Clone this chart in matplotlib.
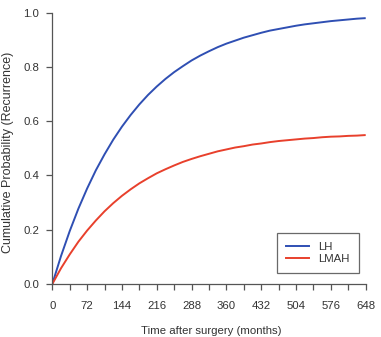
import matplotlib
matplotlib.use("Agg")
import matplotlib.pyplot as plt
from matplotlib.lines import Line2D

# Data (months, cumulative probability)
months = [0, 18, 36, 54, 72, 90, 108, 126, 144, 162, 180, 198, 216, 234, 252,
          270, 288, 306, 324, 342, 360, 378, 396, 414, 432, 450, 468, 486, 504,
          522, 540, 558, 576, 594, 612, 630, 648]
lh = [0.0, 0.103, 0.195, 0.278, 0.352, 0.419, 0.478, 0.532, 0.580, 0.623,
      0.662, 0.697, 0.728, 0.756, 0.781, 0.803, 0.824, 0.842, 0.858, 0.873,
      0.886, 0.897, 0.908, 0.917, 0.926, 0.934, 0.940, 0.946, 0.952, 0.957,
      0.961, 0.965, 0.969, 0.972, 0.975, 0.978, 0.980]
lmah = [0.0, 0.058, 0.109, 0.156, 0.197, 0.234, 0.268, 0.298, 0.325, 0.349,
        0.371, 0.390, 0.408, 0.423, 0.437, 0.450, 0.461, 0.471, 0.480, 0.489,
        0.496, 0.503, 0.508, 0.514, 0.518, 0.523, 0.527, 0.530, 0.533, 0.536,
        0.538, 0.541, 0.543, 0.544, 0.546, 0.547, 0.549]
x_ticks = list(range(0, 649, 36))
x_labels = list(range(0, 649, 72))
y_ticks = [0.0, 0.2, 0.4, 0.6, 0.8, 1.0]
series_names = ["LH", "LMAH"]
series_colors = ["#2f4fb3", "#e8402c"]

plt.rcParams['font.family'] = ['Liberation Sans', 'DejaVu Sans']
FS = 8.2
W, H = 381, 337
fig = plt.figure(figsize=(W / 100, H / 100), dpi=100)
ax = fig.add_axes([52.3 / W, 1 - 284 / H, (365.7 - 52.3) / W, (284 - 12.7) / H])

ax.plot(months, lh, color=series_colors[0], lw=1.4, solid_capstyle='butt')
ax.plot(months, lmah, color=series_colors[1], lw=1.4, solid_capstyle='butt')

ax.set_xlim(0, 648)
ax.set_ylim(0, 1.0)
for s in ['top', 'right']:
    ax.spines[s].set_visible(False)
axis_col = '#555555'
text_col = '#333333'
for s in ['left', 'bottom']:
    ax.spines[s].set_color(axis_col)
    ax.spines[s].set_linewidth(0.9)

ax.set_xticks(x_ticks)
ax.set_xticklabels([str(t) if t in x_labels else '' for t in x_ticks])
ax.set_yticks(y_ticks)
ax.set_yticklabels([f"{v:.1f}" for v in y_ticks])
ax.tick_params(axis='x', direction='out', length=4.5, width=0.9, color=axis_col,
               labelsize=FS, labelcolor=text_col, pad=7.5)
ax.tick_params(axis='y', direction='out', length=4.5, width=0.9, color=axis_col,
               labelsize=FS, labelcolor=text_col, pad=5)

fig.text(211 / W, 1 - 331.5 / H, "Time after surgery (months)", ha='center', va='center',
         fontsize=FS, color=text_col)
fig.text(8 / W, 1 - 152 / H, "Cumulative Probability (Recurrence)", ha='center', va='center',
         rotation=90, fontsize=9.0, color=text_col)

handles = [Line2D([0], [0], color=c, lw=1.4) for c in series_colors]
leg = ax.legend(handles, series_names, loc='lower right',
                bbox_to_anchor=((359 - 52.3) / (365.7 - 52.3), (284 - 273.3) / (284 - 12.7)),
                fontsize=FS, frameon=True, fancybox=False, handlelength=2.0,
                handletextpad=0.85, borderpad=0.8, labelspacing=0.2, borderaxespad=0)
leg.get_frame().set_edgecolor('#444444')
leg.get_frame().set_linewidth(0.9)
for t in leg.get_texts():
    t.set_color(text_col)

fig.savefig("out.png", dpi=100)
